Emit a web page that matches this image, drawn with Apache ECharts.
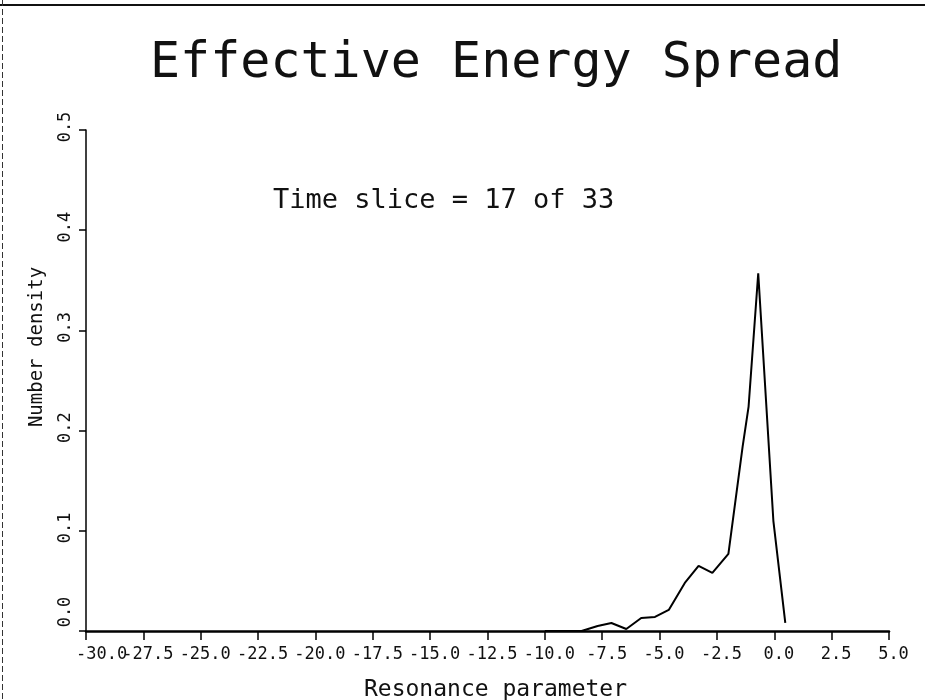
<!DOCTYPE html>
<html>
<head>
<meta charset="utf-8">
<script src="https://cdn.jsdelivr.net/npm/echarts@6/dist/echarts.min.js"></script>
<style>
html,body{margin:0;padding:0;background:#fff;}
#chart{width:925px;height:700px;}
</style>
</head>
<body>
<div id="chart"></div>
<script>
// Data
var resonance = [-10.0, -8.4, -7.7, -7.1, -6.45, -5.8, -5.2, -4.6, -3.9, -3.3, -2.7, -2.0, -1.38, -1.12, -0.70, -0.04, 0.48];
var density   = [0.0, 0.0, 0.005, 0.008, 0.002, 0.013, 0.014, 0.021, 0.048, 0.065, 0.058, 0.077, 0.184, 0.224, 0.357, 0.11, 0.008];
var xTicks = [-30, -27.5, -25, -22.5, -20, -17.5, -15, -12.5, -10, -7.5, -5, -2.5, 0, 2.5, 5];
var yTicks = [0, 0.1, 0.2, 0.3, 0.4, 0.5];
var titleText = 'Effective Energy Spread';
var noteText = 'Time slice = 17 of 33';
var xName = 'Resonance parameter';
var yName = 'Number density';

var pts = resonance.map(function(x, i){ return [x, density[i]]; });
var FONT = 'DejaVu Sans Mono';
var xMin = xTicks[0], xMax = xTicks[xTicks.length - 1];
var chart = echarts.init(document.getElementById('chart'), null, {renderer:'canvas'});
chart.setOption({
  backgroundColor: '#ffffff',
  animation: false,
  title: [
    {text: titleText, left: 145, top: 34,
     textStyle: {fontFamily: FONT, fontSize: 50, fontWeight: 'normal', color: '#111'}},
    {text: noteText, left: 268, top: 182,
     textStyle: {fontFamily: FONT, fontSize: 27, fontWeight: 'normal', color: '#111'}}
  ],
  graphic: [
    {type: 'line', shape: {x1: 0, y1: 5, x2: 925, y2: 5}, style: {stroke: '#111', lineWidth: 2}},
    {type: 'line', shape: {x1: 2.5, y1: 0, x2: 2.5, y2: 700}, style: {stroke: '#333', lineWidth: 1, lineDash: [6, 3]}},
    {type: 'text', x: 37, y: 347, rotation: Math.PI / 2,
     style: {text: yName, fontFamily: FONT, fontSize: 19, fill: '#111', textAlign: 'center', textVerticalAlign: 'middle'}}
  ],
  grid: {left: 86, right: 36, top: 130, bottom: 69, containLabel: false, outerBoundsMode: 'none'},
  xAxis: [{
    type: 'value', min: xMin, max: xMax, interval: 2.5,
    name: xName, nameLocation: 'middle', nameGap: 48,
    nameTextStyle: {fontFamily: FONT, fontSize: 23, color: '#111', padding: [0, 0, 0, 16]},
    axisLine: {onZero: false, lineStyle: {color: '#000', width: 2.5}},
    axisTick: {show: true, inside: false, length: 9, lineStyle: {color: '#000', width: 1.5}},
    axisLabel: {fontFamily: FONT, fontSize: 17, color: '#111', margin: 15,
      formatter: function(v){
        return v === xMin ? '' : '{n|' + v.toFixed(1) + '}';
      },
      rich: {
        n: {fontFamily: FONT, fontSize: 17, color: '#111', padding: [0, 0, 0, 9]}
      }},
    splitLine: {show: false}
  }, {
    // helper axis carrying only the first (left-shifted) tick label
    type: 'value', position: 'bottom', min: xMin, max: xMax, interval: xMax - xMin,
    axisLine: {show: false}, axisTick: {show: false}, splitLine: {show: false},
    axisLabel: {fontFamily: FONT, fontSize: 17, color: '#111', margin: 15,
      formatter: function(v){
        return v === xMin ? '{f|' + v.toFixed(1) + '}' : '';
      },
      rich: {
        f: {fontFamily: FONT, fontSize: 17, color: '#111', width: 20, align: 'left', overflow: 'none'}
      }}
  }],
  yAxis: {
    type: 'value', min: yTicks[0], max: yTicks[yTicks.length - 1], interval: 0.1,
    axisLine: {onZero: false, lineStyle: {color: '#000', width: 1.5}},
    axisTick: {show: true, inside: false, length: 7, lineStyle: {color: '#000', width: 1.5}},
    axisLabel: {fontFamily: FONT, fontSize: 17, color: '#111', margin: 12, rotate: 90,
      showMinLabel: true, showMaxLabel: true,
      formatter: function(v){
        return (v === yTicks[0] ? '{f|' : '{n|') + v.toFixed(1) + '}';
      },
      rich: {
        f: {fontFamily: FONT, fontSize: 17, color: '#111', padding: [0, 0, 0, 38]},
        n: {fontFamily: FONT, fontSize: 17, color: '#111', padding: [0, 0, 0, 6]}
      }},
    splitLine: {show: false}
  },
  series: [{
    type: 'line', xAxisIndex: 0, data: pts, showSymbol: false, smooth: false,
    lineStyle: {color: '#000', width: 2}
  }]
});
</script>
</body>
</html>
